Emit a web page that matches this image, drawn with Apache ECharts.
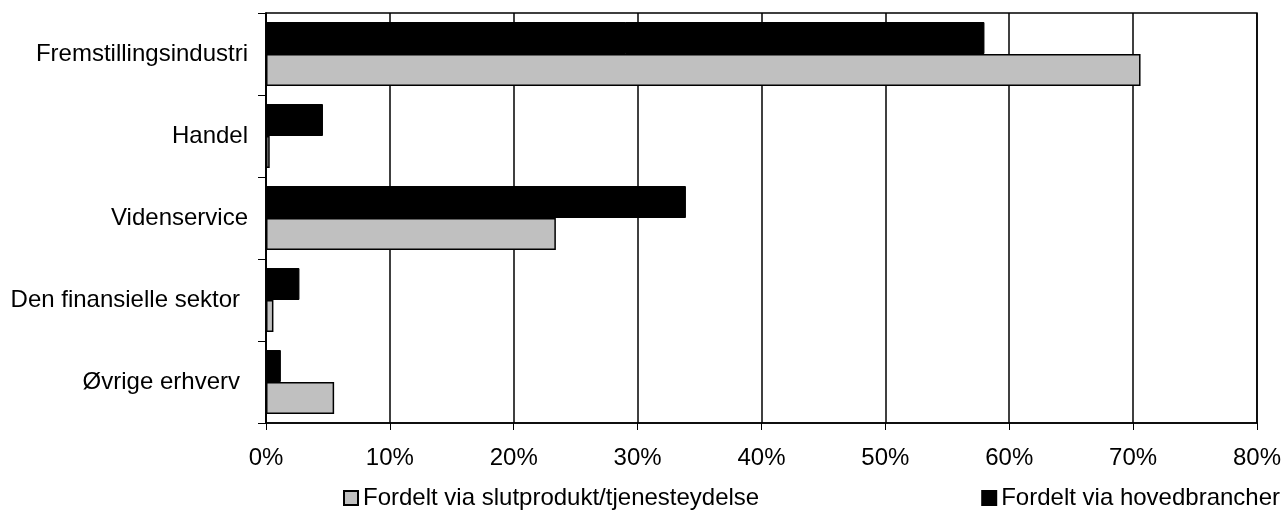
<!DOCTYPE html>
<html>
<head>
<meta charset="utf-8">
<script src="https://cdn.jsdelivr.net/npm/echarts@6/dist/echarts.min.js"></script>
<style>
  html, body { margin: 0; padding: 0; background: #fff; }
  #chart { width: 1284px; height: 525px; }
</style>
</head>
<body>
<div id="chart"></div>
<script>
var categories = ['Fremstillingsindustri', 'Handel', 'Videnservice', 'Den finansielle sektor', 'Øvrige erhverv'];
var hovedbrancher = [58.0, 4.6, 33.9, 2.7, 1.2];
var slutprodukt = [70.6, 0.3, 23.4, 0.6, 5.5];
var xTicks = [0, 10, 20, 30, 40, 50, 60, 70, 80];

var chartDom = document.getElementById('chart');
var myChart = echarts.init(chartDom);
var option;

var font = 'Liberation Sans, Arial, sans-serif';

// the last two labels sit a little further left in the original
var yData = categories.map(function (c, i) {
  return i >= 3 ? { value: c, textStyle: { padding: [0, 8, 0, 0] } } : c;
});

option = {
  animation: false,
  grid: {
    left: 266,
    top: 13,
    right: 26,
    bottom: 102,
    show: true,
    borderColor: '#000',
    borderWidth: 1.5
  },
  legend: {
    bottom: 15,
    left: 343,
    padding: 0,
    itemGap: 222,
    itemWidth: 14,
    itemHeight: 14,
    icon: 'rect',
    data: ['Fordelt via slutprodukt/tjenesteydelse', 'Fordelt via hovedbrancher'],
    textStyle: { fontFamily: font, fontSize: 24, color: '#000', padding: [0, 0, 0, 0] }
  },
  xAxis: {
    type: 'value',
    min: xTicks[0],
    max: xTicks[xTicks.length - 1],
    interval: 10,
    axisLine: { show: true, lineStyle: { color: '#000', width: 1.5 } },
    axisTick: { show: true, length: 7, lineStyle: { color: '#000', width: 1 } },
    splitLine: { show: true, lineStyle: { color: '#000', width: 1.5 } },
    axisLabel: {
      margin: 23,
      fontFamily: font,
      fontSize: 24,
      color: '#000',
      formatter: '{value}%'
    }
  },
  yAxis: {
    type: 'category',
    inverse: true,
    data: yData,
    axisLine: { show: true, lineStyle: { color: '#000', width: 1.5 } },
    axisTick: { show: true, length: 8, lineStyle: { color: '#000', width: 1 } },
    axisLabel: {
      margin: 18,
      fontFamily: font,
      fontSize: 24,
      color: '#000'
    }
  },
  series: [
    {
      name: 'Fordelt via hovedbrancher',
      type: 'bar',
      data: hovedbrancher,
      barGap: '0%',
      barCategoryGap: '22%',
      itemStyle: { color: '#000', borderColor: '#000', borderWidth: 1 }
    },
    {
      name: 'Fordelt via slutprodukt/tjenesteydelse',
      type: 'bar',
      data: slutprodukt,
      barGap: '0%',
      barCategoryGap: '22%',
      itemStyle: { color: '#c0c0c0', borderColor: '#000', borderWidth: 1.5 }
    }
  ]
};

option && myChart.setOption(option);
</script>
</body>
</html>
